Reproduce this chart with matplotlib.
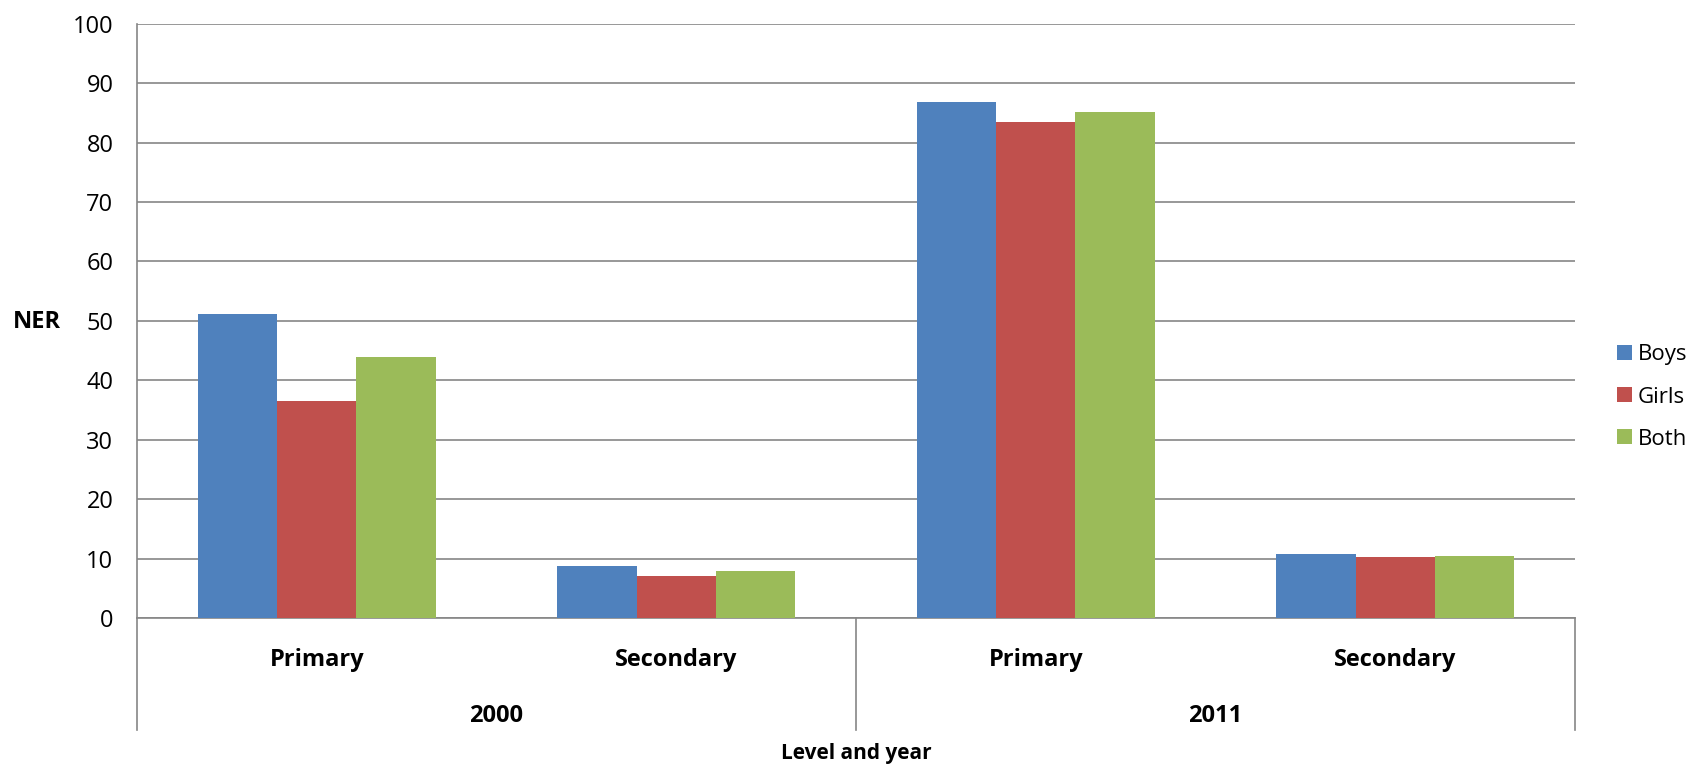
import matplotlib
matplotlib.use("Agg")
import matplotlib.pyplot as plt
import matplotlib.transforms as mtransforms
from matplotlib.patches import Patch
import numpy as np

levels = ["Primary", "Secondary", "Primary", "Secondary"]
years = ["2000", "2011"]
series_names = ["Boys", "Girls", "Both"]
boys = [51.1, 8.8, 86.9, 10.7]
girls = [36.5, 7.0, 83.4, 10.2]
both = [44.0, 7.9, 85.2, 10.45]
colors = ["#4F81BD", "#C0504D", "#9BBB59"]
yticks = [0, 10, 20, 30, 40, 50, 60, 70, 80, 90, 100]

plt.rcParams['font.family'] = ['Open Sans', 'DejaVu Sans']

W, H = 1694, 765
fig = plt.figure(figsize=(W / 100, H / 100), dpi=100)
left, right, top, bottom = 137, 1575, 23.8, 618
ax = fig.add_axes([left / W, 1 - bottom / H, (right - left) / W, (bottom - top) / H])

grid_c = "#868686"
x = np.arange(len(levels))
bw = 0.221
for i, (vals, c) in enumerate(zip([boys, girls, both], colors)):
    ax.bar(x + (i - 1) * bw, vals, width=bw, color=c, zorder=3, linewidth=0)

ax.set_xlim(-0.5, len(levels) - 0.5)
ax.set_ylim(0, 100)
ax.set_yticks(yticks)
ax.set_yticklabels([str(t) for t in yticks], fontsize=17)
ax.tick_params(axis='y', length=0, pad=17)
ax.tick_params(axis='x', length=0, labelbottom=False)
ax.yaxis.grid(True, color=grid_c, linewidth=1.2, zorder=0)
ax.set_axisbelow(True)
for s in ["top", "right"]:
    ax.spines[s].set_visible(False)
ax.spines["left"].set_color(grid_c)
ax.spines["bottom"].set_color(grid_c)
ax.spines["left"].set_linewidth(1.2)
ax.spines["bottom"].set_linewidth(1.2)

trans = mtransforms.blended_transform_factory(ax.transData, ax.transAxes)
axh = bottom - top
sep_bottom = -(730 - bottom) / axh
for xs in [-0.5, 1.5, 3.5]:
    ax.plot([xs, xs], [0, sep_bottom], transform=trans, color=grid_c,
            linewidth=1.2, clip_on=False)

lab_y = -(666 - bottom) / axh
for xi, lab in zip(x, levels):
    ax.text(xi, lab_y, lab, transform=trans, ha='center', va='baseline',
            fontsize=17, fontweight='bold')
yr_y = -(722 - bottom) / axh
for j, yr in enumerate(years):
    ax.text(0.5 + 2 * j, yr_y, yr, transform=trans, ha='center', va='baseline',
            fontsize=17, fontweight='bold')
ax.text(1.5, -(759 - bottom) / axh, "Level and year", transform=trans,
        ha='center', va='baseline', fontsize=15, fontweight='bold')

fig.text(37 / W, 1 - 322 / H, "NER", ha='center', va='center',
         fontsize=17, fontweight='bold')

handles = [Patch(facecolor=c, edgecolor='none') for c in colors]
fig.legend(handles, series_names, loc='center left',
           bbox_to_anchor=(1617 / W, 1 - 397 / H), frameon=False,
           fontsize=16, handlelength=0.68, handleheight=0.68,
           handletextpad=0.25, labelspacing=0.95, borderpad=0, borderaxespad=0)

fig.savefig("out.png", dpi=100)
